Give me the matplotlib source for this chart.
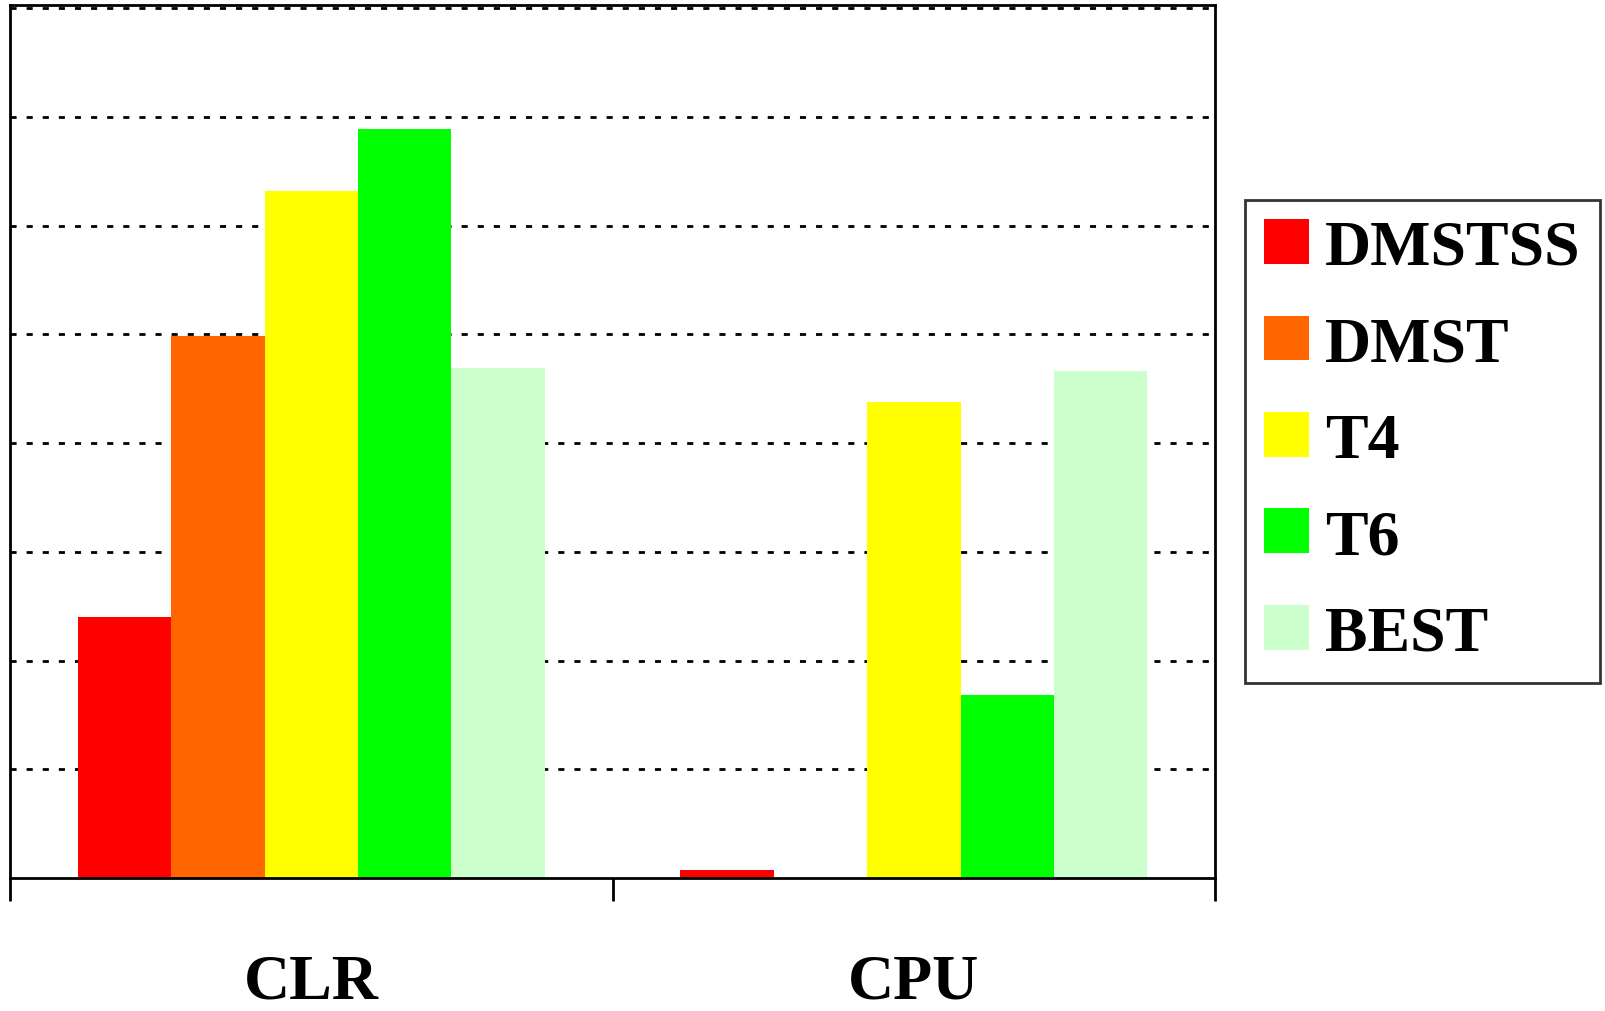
# Barras agrupadas: CLR e CPU
import matplotlib.pyplot as plt
import numpy as np

# Dados
grupos = ["CLR", "CPU"]
series = ["DMSTSS", "DMST", "T4", "T6", "BEST"]
dmstss = [2.40, 0.07]
dmst = [4.99, 0.0]
t4 = [6.32, 4.38]
t6 = [6.89, 1.68]
best = [4.69, 4.66]
cores = ["#FF0000", "#FF6600", "#FFFF00", "#00FF00", "#CCFFCC"]

plt.rcParams['font.family'] = ['Liberation Serif', 'DejaVu Serif']
plt.rcParams['font.weight'] = 'bold'

fig = plt.figure(figsize=(16.06, 10.12), dpi=100)
ax = fig.add_axes([0.0062, 0.1314, 0.7504, 0.8626])

x = np.arange(len(grupos))
largura = 0.155
valores = [dmstss, dmst, t4, t6, best]
for i, (nome, v, c) in enumerate(zip(series, valores, cores)):
    ax.bar(x + (i - 2) * largura, v, largura, color=c, label=nome, zorder=3)

ax.set_xlim(-0.5, 1.5)
ax.set_ylim(0, 8.03)
ax.set_yticks(np.arange(1, 9))
ax.tick_params(axis='y', length=0, labelleft=False)
ax.yaxis.grid(True, color='black', linewidth=2, linestyle=(0, (2.2, 3.6)), zorder=0)

# rotulos das categorias e marcas entre grupos
ax.set_xticks(x)
ax.set_xticklabels(grupos, fontsize=46, fontweight='bold')
ax.tick_params(axis='x', which='major', length=0, pad=54)
ax.set_xticks([-0.5, 0.5, 1.5], minor=True)
ax.tick_params(axis='x', which='minor', length=16.5, width=2, direction='out')

for s in ax.spines.values():
    s.set_linewidth(2)
    s.set_zorder(4)

leg = fig.legend(loc='upper left', bbox_to_anchor=(1245 / 1606, 1 - 201 / 1012),
                 fontsize=46, frameon=True, fancybox=False, edgecolor='black',
                 handlelength=0.7, handleheight=0.7, handletextpad=0.25,
                 labelspacing=0.59, borderpad=0.3, borderaxespad=0)
leg.get_frame().set_linewidth(2)

fig.savefig("out.png", dpi=100)
